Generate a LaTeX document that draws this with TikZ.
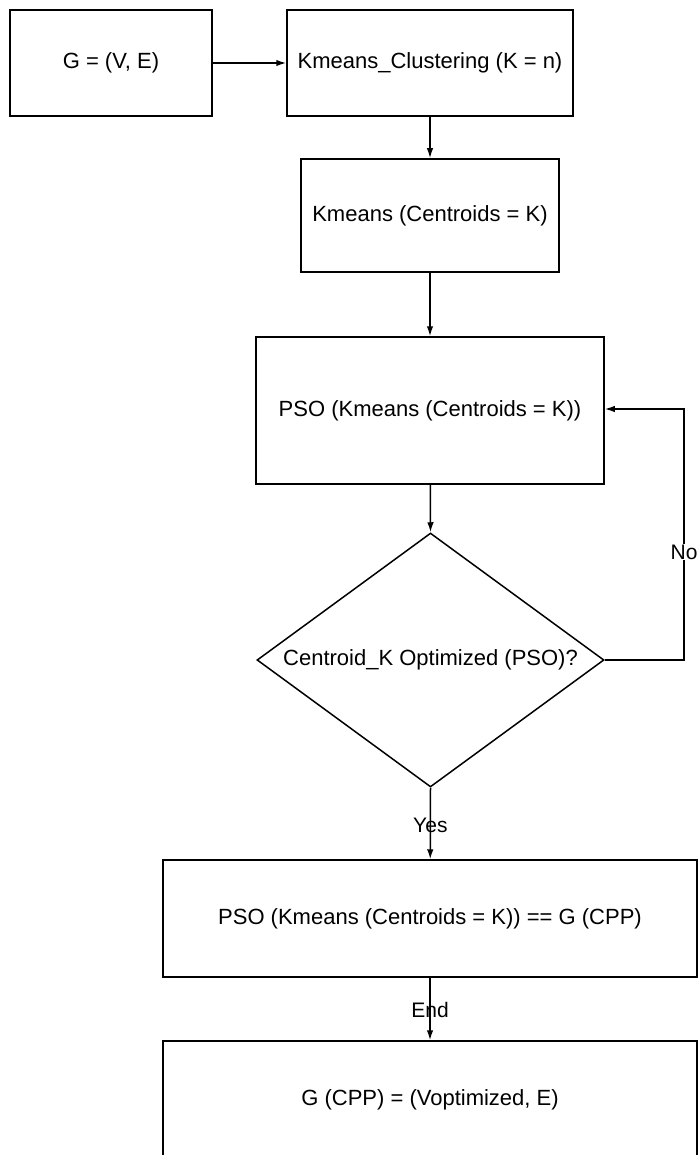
\documentclass[tikz,border=0pt]{standalone}
\usepackage{fontspec}
\setmainfont{Liberation Sans}
\usetikzlibrary{shapes.geometric,arrows.meta}
\begin{document}
\begin{tikzpicture}[x=1pt,y=-1pt,
  txt/.style={font=\fontsize{22}{26}\selectfont},
  box/.style={txt, draw, line width=1.5pt, rectangle, inner sep=0pt},
  decision/.style={txt, draw, line width=1.5pt, diamond, inner sep=0pt, aspect=1.366},
  arr/.style={line width=1.5pt, -{Latex[length=10pt,width=6.5pt]}},
  lbl/.style={font=\fontsize{21}{25}\selectfont, inner sep=1pt}
]
\useasboundingbox (0,0) rectangle (699,1155);
\clip (0,0) rectangle (699,1155);

% process steps
\node[box, minimum width=202pt, minimum height=106pt] (graph) at (111,63) {G = (V, E)};
\node[box, minimum width=286pt, minimum height=106pt] (kclust) at (430,63) {Kmeans\_Clustering (K = n)};
\node[box, minimum width=258pt, minimum height=113pt] (kmeans) at (430,215.5) {Kmeans (Centroids = K)};
\node[box, minimum width=348pt, minimum height=147pt] (pso) at (430,410.5) {PSO (Kmeans (Centroids = K))};
\node[decision, minimum width=347pt, minimum height=254pt] (check) at (430.5,660) {Centroid\_K Optimized (PSO)?};
\node[box, minimum width=534pt, minimum height=117pt] (cpp) at (430,918.5) {PSO (Kmeans (Centroids = K)) == G (CPP)};
\node[box, minimum width=534pt, minimum height=117pt] (result) at (430,1099.5) {G (CPP) = (Voptimized, E)};

% feedback loop corners
\coordinate (loopB) at (684,660);
\coordinate (loopT) at (684,409);

% connectors
\draw[arr] (graph) -- (kclust);
\draw[arr] (kclust) -- (kmeans);
\draw[arr] (kmeans) -- (pso);
\draw[arr] (pso) -- (check.north);
\draw[arr] (check.east) -- (loopB) -- node[lbl, fill=white, pos=0.43] {No} (loopT) -- (pso.east |- loopT);
\draw[arr] (check.south) -- node[lbl, pos=0.52] {Yes} (cpp);
\draw[arr] (cpp) -- node[lbl, pos=0.52] {End} (result);
\end{tikzpicture}
\end{document}
